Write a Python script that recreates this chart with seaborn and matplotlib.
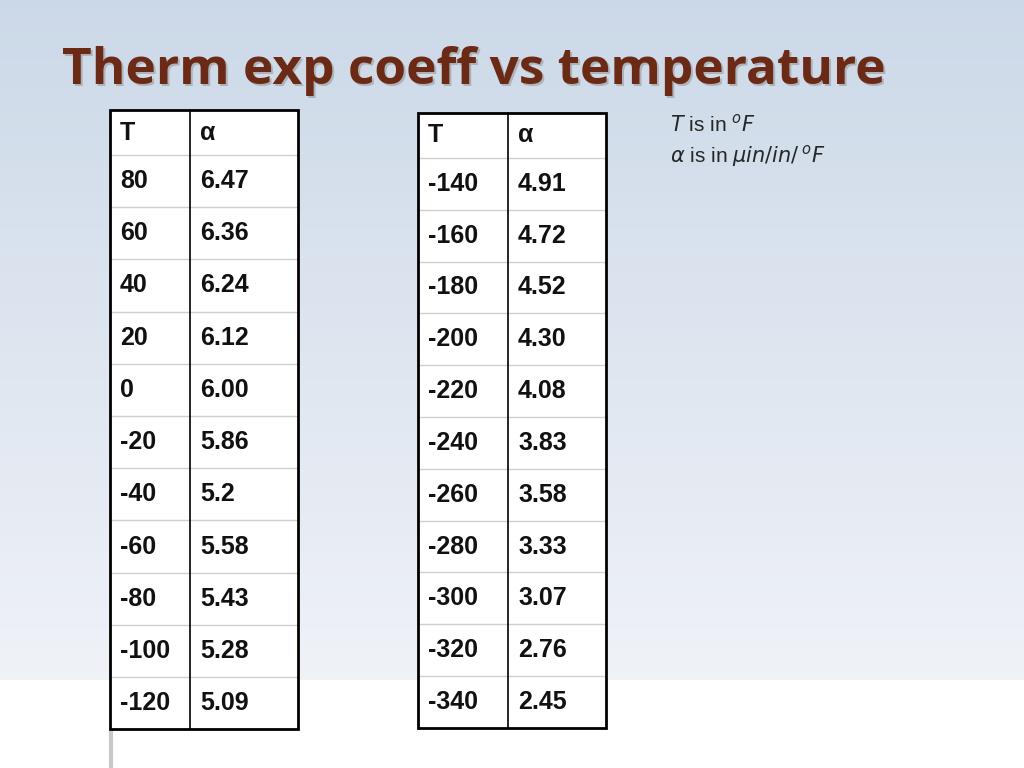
import numpy as np
import seaborn as sns
import matplotlib.pyplot as plt

sns.set_style("white")

# table data
left_T = ["80", "60", "40", "20", "0", "-20", "-40", "-60", "-80", "-100", "-120"]
left_a = ["6.47", "6.36", "6.24", "6.12", "6.00", "5.86", "5.2", "5.58", "5.43", "5.28", "5.09"]
right_T = ["-140", "-160", "-180", "-200", "-220", "-240", "-260", "-280", "-300", "-320", "-340"]
right_a = ["4.91", "4.72", "4.52", "4.30", "4.08", "3.83", "3.58", "3.33", "3.07", "2.76", "2.45"]

fig = plt.figure(figsize=(10.24, 7.68), dpi=100)
ax = fig.add_axes([0, 0, 1, 1])
ax.set_xlim(0, 1024)
ax.set_ylim(768, 0)
ax.axis("off")

# sky-ish background
h = 768
top = np.array([0.80, 0.85, 0.91])
mid = np.array([0.94, 0.95, 0.97])
grad = np.zeros((h, 1, 3))
for i in range(h):
    if i < 680:
        t = i / 680
        grad[i, 0] = top * (1 - t) + mid * t
    else:
        grad[i, 0] = [1, 1, 1]
ax.imshow(grad, extent=[0, 1024, 768, 0], aspect="auto", zorder=0)
ax.plot([111, 111], [730, 768], color="#c8c8c8", lw=3, zorder=1)

# title with shadow
ax.text(64, 86, "Therm exp coeff vs temperature", fontsize=37, fontweight="bold",
        family="Open Sans", color="#999999", alpha=0.6, zorder=2)
ax.text(62, 84, "Therm exp coeff vs temperature", fontsize=37, fontweight="bold",
        family="Open Sans", color="#6b2a16", zorder=3)


def draw_table(x0, y0, col_w, head_h, row_h, Ts, As):
    rows = [("T", "\u03b1")] + list(zip(Ts, As))
    n = len(rows)
    y1 = y0 + head_h + row_h * (n - 1)
    x1 = x0 + sum(col_w)
    ax.add_patch(plt.Rectangle((x0, y0), x1 - x0, y1 - y0, facecolor="white",
                               edgecolor="none", zorder=2))
    ys = [y0, y0 + head_h] + [y0 + head_h + row_h * k for k in range(1, n)]
    for k, (a, b) in enumerate(rows):
        yc = (ys[k] + ys[k + 1]) / 2
        ax.text(x0 + 10, yc, a, fontsize=18, family="Liberation Sans",
                fontweight="bold", color="#111111", va="center", zorder=4)
        ax.text(x0 + col_w[0] + 10, yc, b, fontsize=18, family="Liberation Sans",
                fontweight="bold", color="#111111", va="center", zorder=4)
    for y in ys[1:-1]:
        ax.plot([x0, x1], [y, y], color="#d0d0d0", lw=1, zorder=3)
    ax.plot([x0 + col_w[0]] * 2, [y0, y1], color="black", lw=1.2, zorder=3)
    ax.add_patch(plt.Rectangle((x0, y0), x1 - x0, y1 - y0, facecolor="none",
                               edgecolor="black", lw=2, zorder=4))


draw_table(110, 110, [80, 108], 45, 52.2, left_T, left_a)
draw_table(418, 113, [90, 98], 45, 51.8, right_T, right_a)

ax.text(670, 124, r"$T$ is in $^{o}F$", fontsize=15, family="Liberation Sans",
        va="center", zorder=4)
ax.text(670, 156, r"$\alpha$ is in $\mu in/in/\,^{o}F$", fontsize=15,
        family="Liberation Sans", va="center", zorder=4)

fig.savefig("out.png", dpi=100)
